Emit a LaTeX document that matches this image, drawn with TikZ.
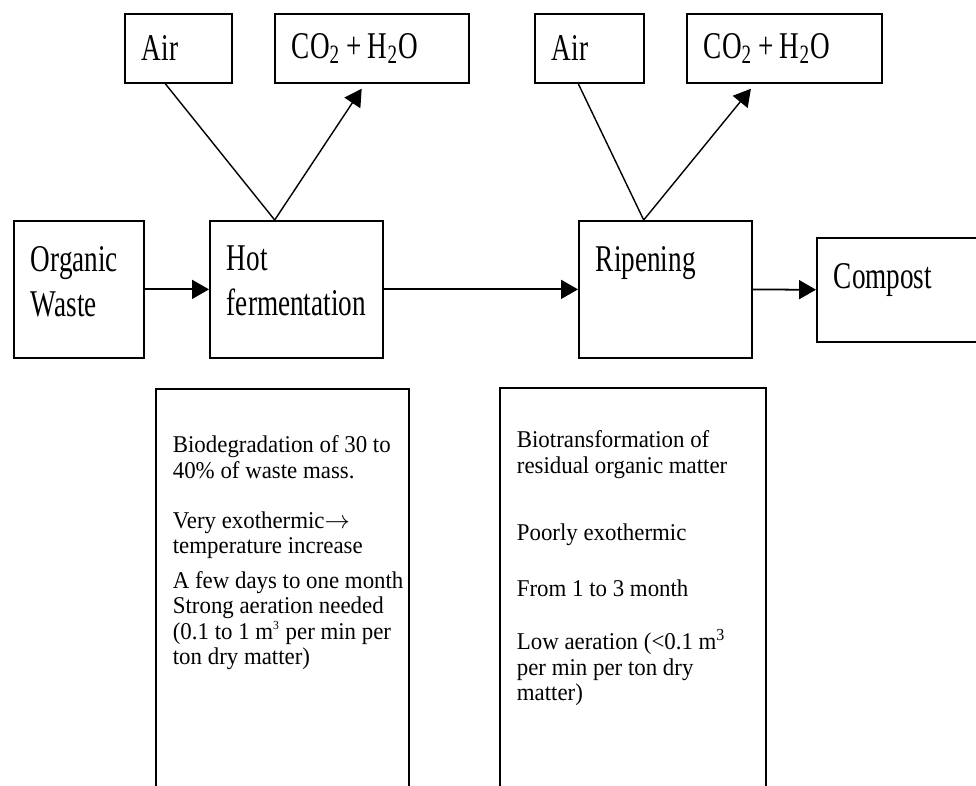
\documentclass[tikz,border=0pt]{standalone}
\usepackage{fontspec}
\setmainfont{Liberation Serif}
\newfontfamily\boxfont[FakeStretch=0.72]{Liberation Serif}
\newfontfamily\notefont[FakeStretch=0.95]{Liberation Serif}
\usetikzlibrary{positioning,calc,arrows.meta}

\begin{document}
\begin{tikzpicture}[x=0.02cm,y=-0.02cm,
	line width=1pt,
	every node/.style={draw,rectangle,anchor=north west,align=left,inner xsep=0.34cm,inner ysep=0pt},
	gasnode/.style={minimum height=1.38cm,font=\boxfont\fontsize{21.5pt}{25.6pt}\selectfont},
	stepnode/.style={minimum height=2.74cm,text depth=35pt,font=\boxfont\fontsize{21.5pt}{25.6pt}\selectfont},
	notebox/.style={minimum height=9cm},
	notetext/.style={draw=none,inner sep=0pt,font=\notefont\fontsize{13.7pt}{14.5pt}\selectfont},
	flow/.style={-{Triangle[length=0.34cm,width=0.38cm]}},
	]
	\useasboundingbox (0,0) rectangle (976,785);
	\clip (0,0) rectangle (976,785);
	
	% gas boxes
	\node[gasnode,text width=1.46cm] (air1) at (124,13) {Air};
	\node[gasnode,text width=3.2cm] (co2a) at (274,13) {CO\textsubscript{2}\,+\,H\textsubscript{2}O};
	\node[gasnode,text width=1.5cm] (air2) at (534,13) {Air};
	\node[gasnode,text width=3.22cm] (co2b) at (686,13) {CO\textsubscript{2}\,+\,H\textsubscript{2}O};
	
	% process steps
	\node[stepnode,text width=1.92cm] (waste) at (13,220) {Organic\\Waste};
	\node[stepnode,text width=2.78cm] (hotferm) at (209,220) {Hot\\fermentation};
	\node[stepnode,text width=2.78cm] (ripen) at (578,220) {Ripening};
	\node[stepnode,text width=3cm,minimum height=2.08cm,text depth=16pt] (compost) at (816,237) {Compost};
	
	% notes
	\node[notebox,minimum width=5.06cm] (hotnote) at (155,388) {};
	\node[notebox,minimum width=5.32cm] (ripnote) at (499,387) {};
	\node[notetext] (hottext) at (172,435) {Biodegradation of 30 to\\
		40\% of waste mass.\\[14pt]
		Very exothermic$\rightarrow$\\
		temperature increase\\[5pt]
		A few days to one month\\
		Strong aeration needed\\
		(0.1 to 1 m\textsuperscript{\scriptsize 3} per min per\\
		ton dry matter)};
	\node[notetext] (riptext) at (516,430) {Biotransformation of\\
		residual organic matter\\[24pt]
		Poorly exothermic\\[17pt]
		From 1 to 3 month\\[16pt]
		Low aeration (<0.1 m\textsuperscript{3}\\
		per min per ton dry\\
		matter)};
	
	% gas connection points
	\coordinate (air1-out) at ($(air1.south west)!0.38!(air1.south east)$);
	\coordinate (hf-in) at ($(hotferm.north west)!0.376!(hotferm.north east)$);
	\coordinate (co2a-in) at ($(co2a.south west)!0.448!(co2a.south east)+(0pt,-0.1cm)$);
	\coordinate (air2-out) at ($(air2.south west)!0.4!(air2.south east)$);
	\coordinate (rip-in) at ($(ripen.north west)!0.376!(ripen.north east)$);
	\coordinate (co2b-in) at ($(co2b.south west)!0.33!(co2b.south east)+(0pt,-0.1cm)$);
	
	% gas edges
	\draw[line width=0.8pt] (air1-out) -- (hf-in);
	\draw[flow,line width=0.8pt] (hf-in) -- (co2a-in);
	\draw[line width=0.8pt] (air2-out) -- (rip-in);
	\draw[flow,line width=0.8pt] (rip-in) -- (co2b-in);
	
	% main flow
	\draw[flow] (waste) -- (hotferm);
	\draw[flow] (hotferm) -- (ripen);
	\draw[flow] (ripen) -- (compost);
	
\end{tikzpicture}
\end{document}
